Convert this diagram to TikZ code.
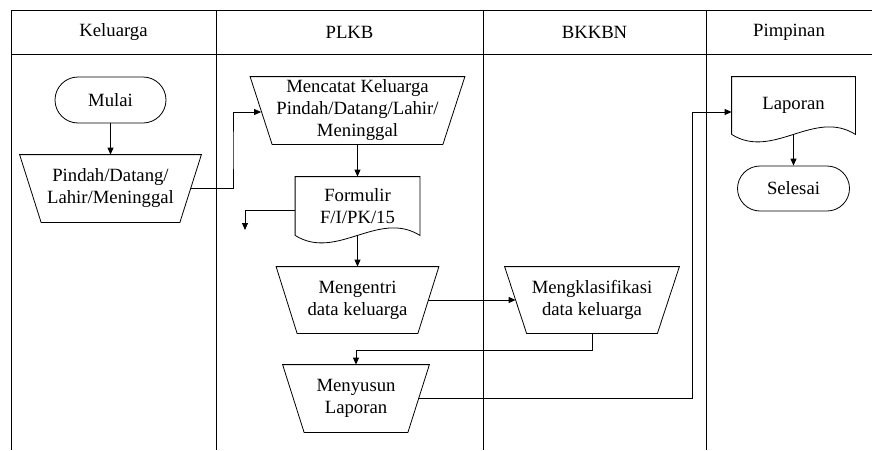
\documentclass[tikz,border=0pt]{standalone}
\usepackage{fontspec}
\setmainfont{Liberation Serif}
\usetikzlibrary{arrows.meta,shapes.misc,calc}
\newcommand\drawtrap[2]{\draw (#1.north west) -- (#1.north east) -- ([xshift=-#2pt]#1.south east) -- ([xshift=#2pt]#1.south west) -- cycle;}
\newcommand\drawdoc[1]{\draw (#1.south west) -- (#1.north west) -- (#1.north east) -- (#1.south east)
  .. controls ($(#1.south east)!0.333!(#1.south west)+(0,-26)$) and ($(#1.south east)!0.667!(#1.south west)+(0,26)$) .. (#1.south west);}
\begin{document}
\begin{tikzpicture}[x=1pt,y=-1pt, line width=0.8pt,
 every node/.style={font=\fontsize{18.7}{22}\selectfont, align=center, inner sep=0pt},
 term/.style={draw, rounded rectangle, minimum width=111pt, minimum height=46pt},
 trapbox/.style={minimum height=67pt},
 docbox/.style={minimum width=124pt, minimum height=58pt},
 arr/.style={-{Triangle[length=7pt,width=6pt]}}]
\useasboundingbox (0,0) rectangle (872,450);
% lanes
\draw (11,10) -- (872,10);
\draw (11,54) -- (872,54);
\foreach \x in {11,216,483,706} \draw (\x,10) -- (\x,450);
\node (hk) at (113.5,32) {Keluarga};
\node (hp) at (349.5,32) {PLKB};
\node (hb) at (594.5,32) {BKKBN};
\node (hm) at (789,32) {Pimpinan};
% nodes
\node[term] (mulai) at (110.5,100) {Mulai};
\node[trapbox, minimum width=181pt] (pin) at (110.5,188.5) {Pindah/Datang/\\Lahir/Meninggal};
\drawtrap{pin}{21.5}
\node[trapbox, minimum width=214pt] (mct) at (357.5,110.5) {Mencatat Keluarga\\Pindah/Datang/Lahir/\\Meninggal};
\drawtrap{mct}{22}
\node[docbox] (form) at (357.5,206) {Formulir\\F/I/PK/15};
\drawdoc{form}
\node[trapbox, minimum width=162pt, minimum height=66pt] (ment) at (357.5,300) {Mengentri\\data keluarga};
\drawtrap{ment}{21}
\node[trapbox, minimum width=174pt, minimum height=66pt] (mkl) at (592,300) {Mengklasifikasi\\data keluarga};
\drawtrap{mkl}{22}
\node[trapbox, minimum width=146pt] (mny) at (356,398.5) {Menyusun\\Laporan};
\drawtrap{mny}{21.5}
\node[docbox, minimum width=123pt, minimum height=57pt] (lap) at (793.5,105.5) {Laporan};
\drawdoc{lap}
\node[term, minimum width=112pt, minimum height=45pt] (sel) at (793.5,188.5) {Selesai};
% connectors
\draw[arr] (mulai.south) -- (pin.north);
\coordinate (b1) at (233,150);
\draw[arr] ([xshift=-10.75pt]pin.east) -| (b1) |- ([xshift=11pt,yshift=-1.5pt]mct.west);
\draw[arr] (mct.south) -- (form.north);
\coordinate (fe) at (245,230);
\draw[arr] ([yshift=-4.5pt]form.west) -| (fe);
\draw[arr] (form.south) -- (ment.north);
\draw[arr] ([xshift=-10.5pt]ment.east) -- ([xshift=11pt]mkl.west);
\draw[arr] (mkl.south) -- ++(0,17) -| (mny.north);
\coordinate (b3) at (692,250);
\draw[arr] ([xshift=-10.75pt]mny.east) -| (b3) |- ([yshift=-6.5pt]lap.west);
\draw[arr] (lap.south) -- (sel.north);
\end{tikzpicture}
\end{document}
